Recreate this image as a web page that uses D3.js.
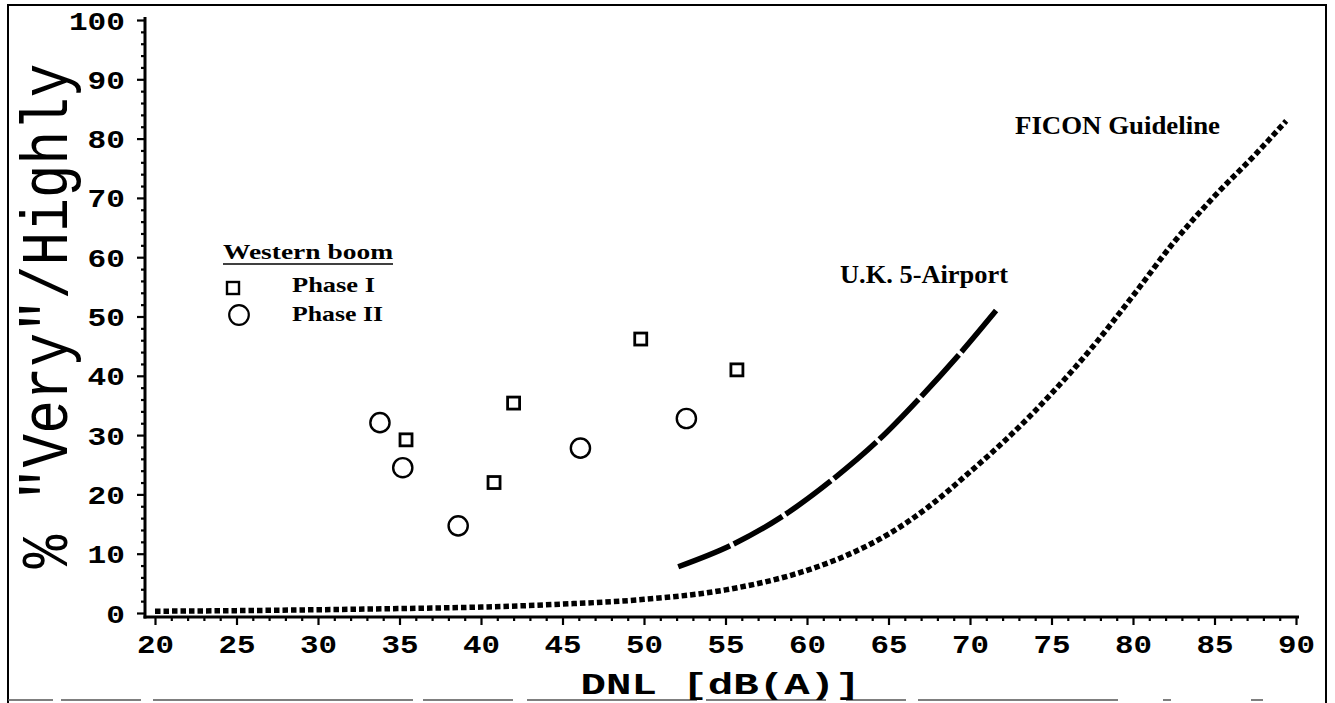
<!DOCTYPE html>
<html><head><meta charset="utf-8">
<script src="https://cdn.jsdelivr.net/npm/d3@7"></script>
<style>body{margin:0;background:#fff;} svg{display:block}</style>
</head><body>
<svg id="c" width="1335" height="703"></svg>
<script>
// ---- data ----
const xTickValues = [20,25,30,35,40,45,50,55,60,65,70,75,80,85,90];
const yTickValues = [0,10,20,30,40,50,60,70,80,90,100];
const phase1DNL = [35.4, 40.8, 42.0, 49.8, 55.7];
const phase1Pct = [29.2, 22.0, 35.4, 46.2, 41.0];
const phase2DNL = [33.8, 35.2, 38.6, 46.1, 52.6];
const phase2Pct = [32.1, 24.5, 14.7, 27.8, 32.8];
const ukDNL = [52.1, 55.4, 58.6, 61.7, 64.4, 67.1, 69.4, 71.6];
const ukPct = [7.8, 11.5, 16.5, 22.8, 29.2, 36.8, 43.8, 51.0];
const ficonDNL = [20, 25, 30, 35, 40, 45, 50, 55, 60, 62.5, 65, 67.5, 70, 72.5, 75, 77.5, 80, 82.5, 85, 87.5, 89.4];
const ficonPct = [0.3, 0.4, 0.55, 0.75, 1.0, 1.5, 2.3, 3.9, 7.2, 9.8, 13.3, 18.0, 23.8, 30.0, 37.0, 44.8, 53.5, 62.5, 70.3, 77.3, 83.0];
const xTitle = "DNL [dB(A)]";
const yTitle = "% \"Very\"/Highly";
const legendTitle = "Western boom";
const legendLabels = ["Phase I", "Phase II"];
const curveLabels = ["U.K. 5-Airport", "FICON Guideline"];

// ---- drawing ----
const svg = d3.select("#c");
const x = d3.scaleLinear().domain([20, 90]).range([155, 1296]);
const y = d3.scaleLinear().domain([0, 100]).range([613, 20]);
const axisX0 = x(20) - 10;  // y-axis line position
const axisY0 = y(0) + 4;    // x-axis line position
const mono = "'Liberation Mono','Courier New',monospace";
const serif = "'Liberation Serif','Times New Roman',serif";

svg.append("rect").attr("width", 1335).attr("height", 703).attr("fill", "#fff");

// outer frame
svg.append("path")
  .attr("d", "M8,703 L8,5 L1326,5 L1326,703")
  .attr("fill", "none").attr("stroke", "#000").attr("stroke-width", 2);
svg.append("line").attr("x1", 8).attr("x2", 1326).attr("y1", 700).attr("y2", 700)
  .attr("stroke", "#555").attr("stroke-width", 1.5)
  .attr("stroke-dasharray", "45,8,80,12,260,10,90,14,170,9,120,20,60,12,200");

// minor ticks
const minorX = d3.range(20, 91, 1).filter(v => v % 5 !== 0);
const minorY = d3.range(0, 101, 2).filter(v => v % 10 !== 0);
const gxMinor = svg.append("g").attr("transform", `translate(0,${axisY0})`)
  .call(d3.axisBottom(x).tickValues(minorX).tickSize(4).tickFormat(""));
const gyMinor = svg.append("g").attr("transform", `translate(${axisX0},0)`)
  .call(d3.axisLeft(y).tickValues(minorY).tickSize(4).tickFormat(""));
// major ticks
const gx = svg.append("g").attr("transform", `translate(0,${axisY0})`)
  .call(d3.axisBottom(x).tickValues(xTickValues).tickSize(8).tickPadding(14));
const gy = svg.append("g").attr("transform", `translate(${axisX0},0)`)
  .call(d3.axisLeft(y).tickValues(yTickValues).tickSize(8).tickPadding(12));
[gxMinor, gyMinor, gx, gy].forEach(g => {
  g.select(".domain").remove();
  g.selectAll(".tick line").attr("stroke", "#000").attr("stroke-width", 2.2);
});
gx.selectAll(".tick text")
  .attr("font-family", mono).attr("font-weight", "bold").attr("font-size", 25)
  .attr("fill", "#000").attr("dy", null).attr("y", 36)
  .attr("textLength", d => String(d).length * 18.5).attr("lengthAdjust", "spacingAndGlyphs");
gy.selectAll(".tick text")
  .attr("font-family", mono).attr("font-weight", "bold").attr("font-size", 25)
  .attr("fill", "#000").attr("dy", "0.36em")
  .attr("textLength", d => String(d).length * 18.7).attr("lengthAdjust", "spacingAndGlyphs");

// axis lines
svg.append("line").attr("x1", axisX0).attr("x2", axisX0).attr("y1", y(100) - 3).attr("y2", axisY0 + 1.5)
  .attr("stroke", "#000").attr("stroke-width", 3);
svg.append("line").attr("x1", axisX0 - 1.5).attr("x2", x(90) + 3).attr("y1", axisY0).attr("y2", axisY0)
  .attr("stroke", "#000").attr("stroke-width", 3);

// axis titles
svg.append("text").attr("x", (axisX0 + x(90)) / 2).attr("y", 694)
  .attr("text-anchor", "middle").attr("font-family", mono).attr("font-weight", "bold")
  .attr("font-size", 29).attr("textLength", 280).attr("lengthAdjust", "spacingAndGlyphs")
  .text(xTitle);
svg.append("text").attr("transform", "translate(67,316) scale(1.25,1) rotate(-90)")
  .attr("text-anchor", "middle").attr("font-family", mono).attr("font-weight", "normal")
  .attr("font-size", 54).attr("textLength", 505).attr("lengthAdjust", "spacingAndGlyphs")
  .text(yTitle);

// curves
const ficon = ficonDNL.map((d, i) => [d, ficonPct[i]]);
const uk = ukDNL.map((d, i) => [d, ukPct[i]]);
const line = d3.line().x(d => x(d[0])).y(d => y(d[1])).curve(d3.curveMonotoneX);
svg.append("path").attr("d", line(ficon)).attr("fill", "none").attr("stroke", "#000")
  .attr("stroke-width", 5.5).attr("stroke-dasharray", "5.5,3");
svg.append("path").attr("d", line(uk)).attr("fill", "none").attr("stroke", "#000")
  .attr("stroke-width", 5.5).attr("stroke-dasharray", "56,4");

// markers
const p1 = phase1DNL.map((d, i) => [d, phase1Pct[i]]);
const p2 = phase2DNL.map((d, i) => [d, phase2Pct[i]]);
const sq = 12;
svg.append("g").selectAll("rect").data(p1).join("rect")
  .attr("x", d => x(d[0]) - sq / 2).attr("y", d => y(d[1]) - sq / 2)
  .attr("width", sq).attr("height", sq)
  .attr("fill", "none").attr("stroke", "#000").attr("stroke-width", 2.8);
svg.append("g").selectAll("circle").data(p2).join("circle")
  .attr("cx", d => x(d[0])).attr("cy", d => y(d[1])).attr("r", 9.6)
  .attr("fill", "none").attr("stroke", "#000").attr("stroke-width", 2.4);

// curve labels
svg.append("text").attr("x", 840).attr("y", 283).attr("font-family", serif).attr("font-weight", "bold")
  .attr("font-size", 25).attr("textLength", 168).attr("lengthAdjust", "spacingAndGlyphs")
  .text(curveLabels[0]);
svg.append("text").attr("x", 1015).attr("y", 134).attr("font-family", serif).attr("font-weight", "bold")
  .attr("font-size", 25).attr("textLength", 205).attr("lengthAdjust", "spacingAndGlyphs")
  .text(curveLabels[1]);

// legend
const lg = svg.append("g");
lg.append("text").attr("x", 223).attr("y", 259).attr("font-family", serif).attr("font-weight", "bold")
  .attr("font-size", 22).attr("textLength", 170).attr("lengthAdjust", "spacingAndGlyphs")
  .text(legendTitle);
lg.append("line").attr("x1", 223).attr("x2", 393).attr("y1", 264).attr("y2", 264)
  .attr("stroke", "#000").attr("stroke-width", 1.6);
lg.append("rect").attr("x", 233 - 6).attr("y", 288 - 6).attr("width", 12).attr("height", 12)
  .attr("fill", "none").attr("stroke", "#000").attr("stroke-width", 2.4);
lg.append("circle").attr("cx", 239).attr("cy", 315).attr("r", 9.8)
  .attr("fill", "none").attr("stroke", "#000").attr("stroke-width", 2.2);
lg.append("text").attr("x", 292).attr("y", 292).attr("font-family", serif).attr("font-weight", "bold")
  .attr("font-size", 22).attr("textLength", 83).attr("lengthAdjust", "spacingAndGlyphs")
  .text(legendLabels[0]);
lg.append("text").attr("x", 292).attr("y", 321).attr("font-family", serif).attr("font-weight", "bold")
  .attr("font-size", 22).attr("textLength", 91).attr("lengthAdjust", "spacingAndGlyphs")
  .text(legendLabels[1]);
</script>
</body></html>
